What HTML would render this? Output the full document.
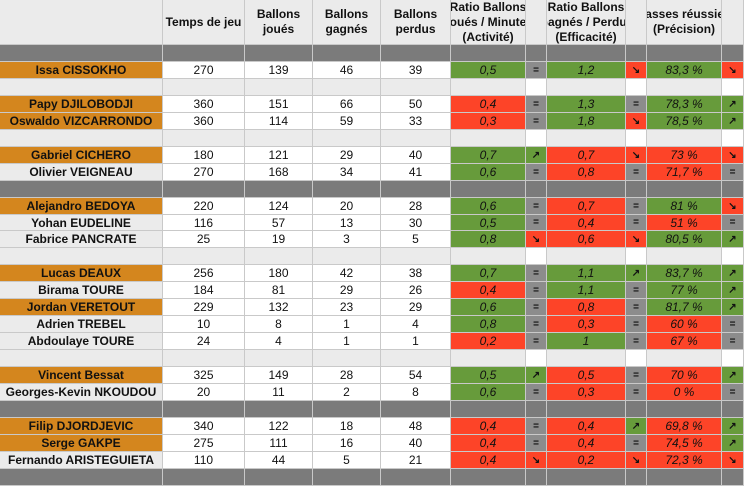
<!DOCTYPE html>
<html><head><meta charset="utf-8">
<style>
body{margin:0;width:744px;height:484px;overflow:hidden;background:#fff;font-family:"Liberation Sans",sans-serif}
#t{position:relative;width:744px;height:484px}
.c{position:absolute;box-sizing:border-box;display:flex;align-items:center;justify-content:center;font-size:12px;color:#111;border-right:1px solid #c9c9c9;border-bottom:1px solid #c9c9c9;white-space:nowrap;overflow:hidden}
.h{font-weight:bold;font-size:12px;text-align:center;line-height:15px;background:#ebebeb}
.n{font-weight:bold}
.i{font-style:italic}
.ic{font-size:10px;font-weight:bold}
</style></head><body>
<div id="t"></div>
<script>
const cols=[0,163,245,313,381,451,526,547,626,647,722,744];
const headers=["","Temps de jeu","Ballons<br>joués","Ballons<br>gagnés","Ballons<br>perdus","Ratio Ballons<br>Joués / Minutes<br>(Activité)","","Ratio Ballons<br>Gagnés / Perdus<br>(Efficacité)","","Passes réussies<br>(Précision)",""];
const rowTypes=["D","P","S","P","P","S","P","P","D","P","P","P","S","P","P","P","P","P","S","P","P","D","P","P","P","D"];
const names=["Issa CISSOKHO","Papy DJILOBODJI","Oswaldo VIZCARRONDO","Gabriel CICHERO","Olivier VEIGNEAU","Alejandro BEDOYA","Yohan EUDELINE","Fabrice PANCRATE","Lucas DEAUX","Birama TOURE","Jordan VERETOUT","Adrien TREBEL","Abdoulaye TOURE","Vincent Bessat","Georges-Kevin NKOUDOU","Filip DJORDJEVIC","Serge GAKPE","Fernando ARISTEGUIETA"];
const starters=[1,1,1,1,0,1,0,0,1,0,1,0,0,1,0,1,1,0];
const temps=[270,360,360,180,270,220,116,25,256,184,229,10,24,325,20,340,275,110];
const joues=[139,151,114,121,168,124,57,19,180,81,132,8,4,149,11,122,111,44];
const gagnes=[46,66,59,29,34,20,13,3,42,29,23,1,1,28,2,18,16,5];
const perdus=[39,50,33,40,41,28,30,5,38,26,29,4,1,54,8,48,40,21];
const activite=["0,5","0,4","0,3","0,7","0,6","0,6","0,5","0,8","0,7","0,4","0,6","0,8","0,2","0,5","0,6","0,4","0,4","0,4"];
const activiteOk=[1,0,0,1,1,1,1,1,1,0,1,1,0,1,1,0,0,0];
const activiteTrend=["=","=","=","↗","=","=","=","↘","=","=","=","=","=","↗","=","=","=","↘"];
const efficacite=["1,2","1,3","1,8","0,7","0,8","0,7","0,4","0,6","1,1","1,1","0,8","0,3","1","0,5","0,3","0,4","0,4","0,2"];
const efficaciteOk=[1,1,1,0,0,0,0,0,1,1,0,0,1,0,0,0,0,0];
const efficaciteTrend=["↘","=","↘","↘","=","=","=","↘","↗","=","=","=","=","=","=","↗","=","↘"];
const precision=["83,3 %","78,3 %","78,5 %","73 %","71,7 %","81 %","51 %","80,5 %","83,7 %","77 %","81,7 %","60 %","67 %","70 %","0 %","69,8 %","74,5 %","72,3 %"];
const precisionOk=[1,1,1,0,0,1,0,1,1,1,1,0,0,0,0,0,0,0];
const precisionTrend=["↘","↗","↗","↘","=","↘","=","↗","↗","↗","↗","=","=","↗","=","↗","↗","↘"];
const G="#679b3b",R="#fd4428",GR="#8c8c8c",DK="#7b7b7b",OR="#d4861e",LT="#ebebeb";
const T=document.getElementById('t');
function cell(ci,top,h,html,bg,cls,name){
  const d=document.createElement('div');
  d.className='c '+(cls||'');
  d.style.left=cols[ci]+'px';d.style.top=top+'px';
  d.style.width=(cols[ci+1]-cols[ci])+'px';d.style.height=h+'px';
  d.style.background=bg;d.innerHTML=html;
  
  
  T.appendChild(d);
}
headers.forEach((h,i)=>cell(i,0,45,h,LT,'h','header-'+i));
const pitch=16.95;
let p=0;
function trendBg(s){return s==='='?GR:(s==='↗'?G:R);}
rowTypes.forEach((rt,r)=>{
  const top=Math.round(45+r*pitch), h=Math.round(45+(r+1)*pitch)-top;
  if(rt==='D'){for(let i=0;i<11;i++)cell(i,top,h,'',DK,'','section-divider');return;}
  if(rt==='S'){for(let i=0;i<11;i++)cell(i,top,h,'',(i===6||i===8||i===10)?'#fff':LT,'','spacer-row');return;}
  const k=p++;
  cell(0,top,h,names[k],starters[k]?OR:LT,'n','player-name');
  cell(1,top,h,temps[k],'#fff','','temps-de-jeu');
  cell(2,top,h,joues[k],'#fff','','ballons-joues');
  cell(3,top,h,gagnes[k],'#fff','','ballons-gagnes');
  cell(4,top,h,perdus[k],'#fff','','ballons-perdus');
  cell(5,top,h,activite[k],activiteOk[k]?G:R,'i','ratio-activite');
  cell(6,top,h,activiteTrend[k],trendBg(activiteTrend[k]),'ic','activite-trend');
  cell(7,top,h,efficacite[k],efficaciteOk[k]?G:R,'i','ratio-efficacite');
  cell(8,top,h,efficaciteTrend[k],trendBg(efficaciteTrend[k]),'ic','efficacite-trend');
  cell(9,top,h,precision[k],precisionOk[k]?G:R,'i','passes-precision');
  cell(10,top,h,precisionTrend[k],trendBg(precisionTrend[k]),'ic','precision-trend');
});
</script>
</body></html>
